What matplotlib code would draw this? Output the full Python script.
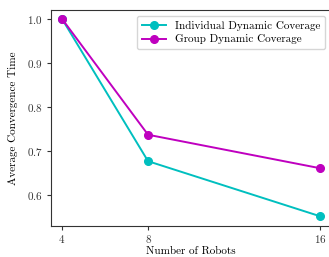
import matplotlib.pyplot as plt

robots = [4, 8, 16]
individual = [1.0, 0.677, 0.552]
group = [1.0, 0.737, 0.661]

plt.rcParams['font.family'] = 'cmr10'
plt.rcParams['axes.formatter.use_mathtext'] = True
plt.rcParams['font.size'] = 8

fig = plt.figure(figsize=(3.29, 2.57), dpi=100)
ax = fig.add_axes([51 / 329, 1 - 226 / 257, 280 / 329, 216 / 257])

ax.plot(robots, individual, color='c', marker='o', markersize=5.5, linewidth=1.4,
        label='Individual Dynamic Coverage')
ax.plot(robots, group, color='m', marker='o', markersize=5.5, linewidth=1.4,
        label='Group Dynamic Coverage')

ax.set_xlim(3.49, 16.5)
ax.set_ylim(0.53, 1.02)
ax.set_xticks(robots)
ax.set_yticks([0.6, 0.7, 0.8, 0.9, 1.0])
ax.set_xlabel('Number of Robots', labelpad=1)
ax.set_ylabel('Average Convergence Time', labelpad=6)

for s in ax.spines.values():
    s.set_color('#333333')
ax.tick_params(colors='#333333', labelcolor='#333333', length=3, width=0.8, pad=3)
ax.tick_params(axis='x', pad=2)

ax.legend(loc='upper right', fontsize=8, borderaxespad=0.5,
          handlelength=2.2, handletextpad=0.8, borderpad=0.45, labelspacing=0.35,
          framealpha=0.8)

plt.savefig('out.png', dpi=100)
